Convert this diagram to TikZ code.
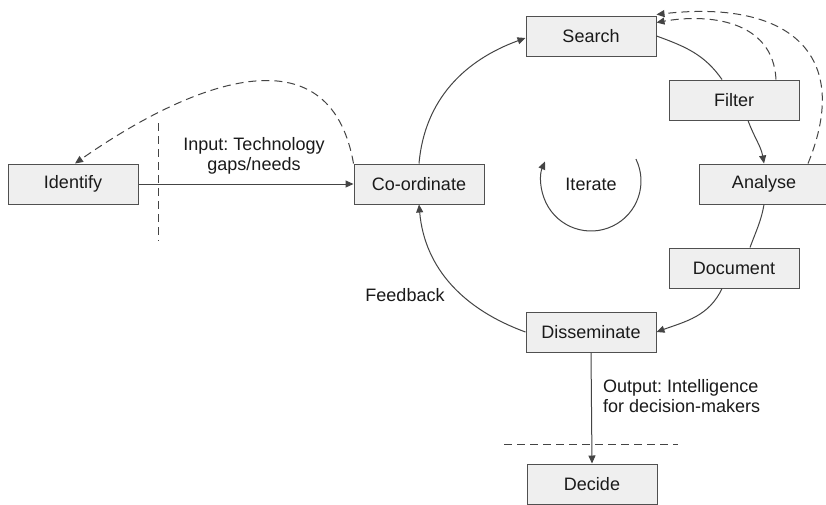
\documentclass[tikz,border=0pt]{standalone}
\usepackage{fontspec}
\setmainfont{Liberation Sans}
\usetikzlibrary{arrows.meta}
\frenchspacing
\definecolor{boxfill}{HTML}{EFEFEF}
\definecolor{boxline}{HTML}{505050}
\definecolor{linecol}{HTML}{444444}
\definecolor{txt}{HTML}{1A1A1A}
\tikzset{
  stage/.style={draw=boxline, fill=boxfill, line width=1pt,
    minimum width=130pt, minimum height=40pt, inner sep=0pt,
    text=txt, font=\fontsize{18}{20}\selectfont},
  label/.style={text=txt, font=\fontsize{18}{20}\selectfont, inner sep=0pt},
  flow/.style={draw=linecol, line width=1pt},
  flowarrow/.style={flow, -{Triangle[length=8pt,width=7pt]}},
  backarrow/.style={flowarrow, dash pattern=on 8pt off 5pt},
  divider/.style={draw=linecol, line width=1pt, dash pattern=on 8pt off 5pt}
}
\begin{document}
\begin{tikzpicture}[x=1pt, y=1pt]
  \clip (0,0) rectangle (826,-504);
  \fill[white] (0,0) rectangle (826,-504);

  % stages
  \node[stage] (identify)    at (73,-184)  {Identify};
  \node[stage] (coord)       at (419,-184) {Co-ordinate};
  \node[stage] (search)      at (591,-36)  {Search};
  \node[stage] (filter)      at (734,-100) {Filter};
  \node[stage] (analyse)     at (764,-184) {Analyse};
  \node[stage] (document)    at (734,-268) {Document};
  \node[stage] (disseminate) at (591,-332) {Disseminate};
  \node[stage] (decide)      at (592,-484) {Decide};

  % labels
  \node[label, align=center] (input) at (254,-156) {Input: Technology\\gaps/needs};
  \node[label] (feedback) at (405,-295) {Feedback};
  \node[label, align=left, anchor=west] (output) at (603,-396) {Output: Intelligence\\for decision-makers};
  \node[label] (iterate) at (591,-184) {Iterate};

  % boundary markers
  \coordinate (vtop) at (158,-123);
  \coordinate (vbot) at (158,-241);
  \draw[divider] (vtop) -- (vbot);
  \coordinate (hleft) at (504,-444);
  \coordinate (hright) at (678,-444);
  \draw[divider] (hleft) -- (hright);

  % main flow
  \draw[flowarrow] (identify.east) -- (coord.west);
  \draw[flowarrow] (coord.north) to[out=85, in=200] ([yshift=-2pt]search.west);
  \draw[flow] (search.east) to[out=-20, in=125] ([xshift=-12pt]filter.north);
  \draw[flowarrow] ([xshift=14pt]filter.south) to[out=-70, in=100] (analyse.north);
  \draw[flow] (analyse.south) to[out=-100, in=70] ([xshift=16pt]document.north);
  \draw[flowarrow] ([xshift=-12pt]document.south) to[out=-115, in=20] (disseminate.east);
  \draw[flowarrow] (disseminate.west) to[out=160, in=-85] (coord.south);
  \draw[flowarrow] (disseminate.south) -- (decide.north);

  % iteration loop
  \coordinate (loopc) at (591,-181);
  \draw[flowarrow] (loopc) ++(26:50) arc[start angle=26, end angle=-203, radius=50];

  % feedback loops (dashed)
  \draw[backarrow] (coord.north west) to[out=100, in=35, looseness=1.28] ([xshift=2pt]identify.north);
  \draw[backarrow] ([xshift=42pt]filter.north) .. controls +(-3,60) and +(51,9) .. ([yshift=-7pt]search.north east);
  \draw[backarrow] ([xshift=44pt]analyse.north) .. controls +(45,110) and +(132,15) .. ([yshift=1pt]search.north east);
\end{tikzpicture}
\end{document}
